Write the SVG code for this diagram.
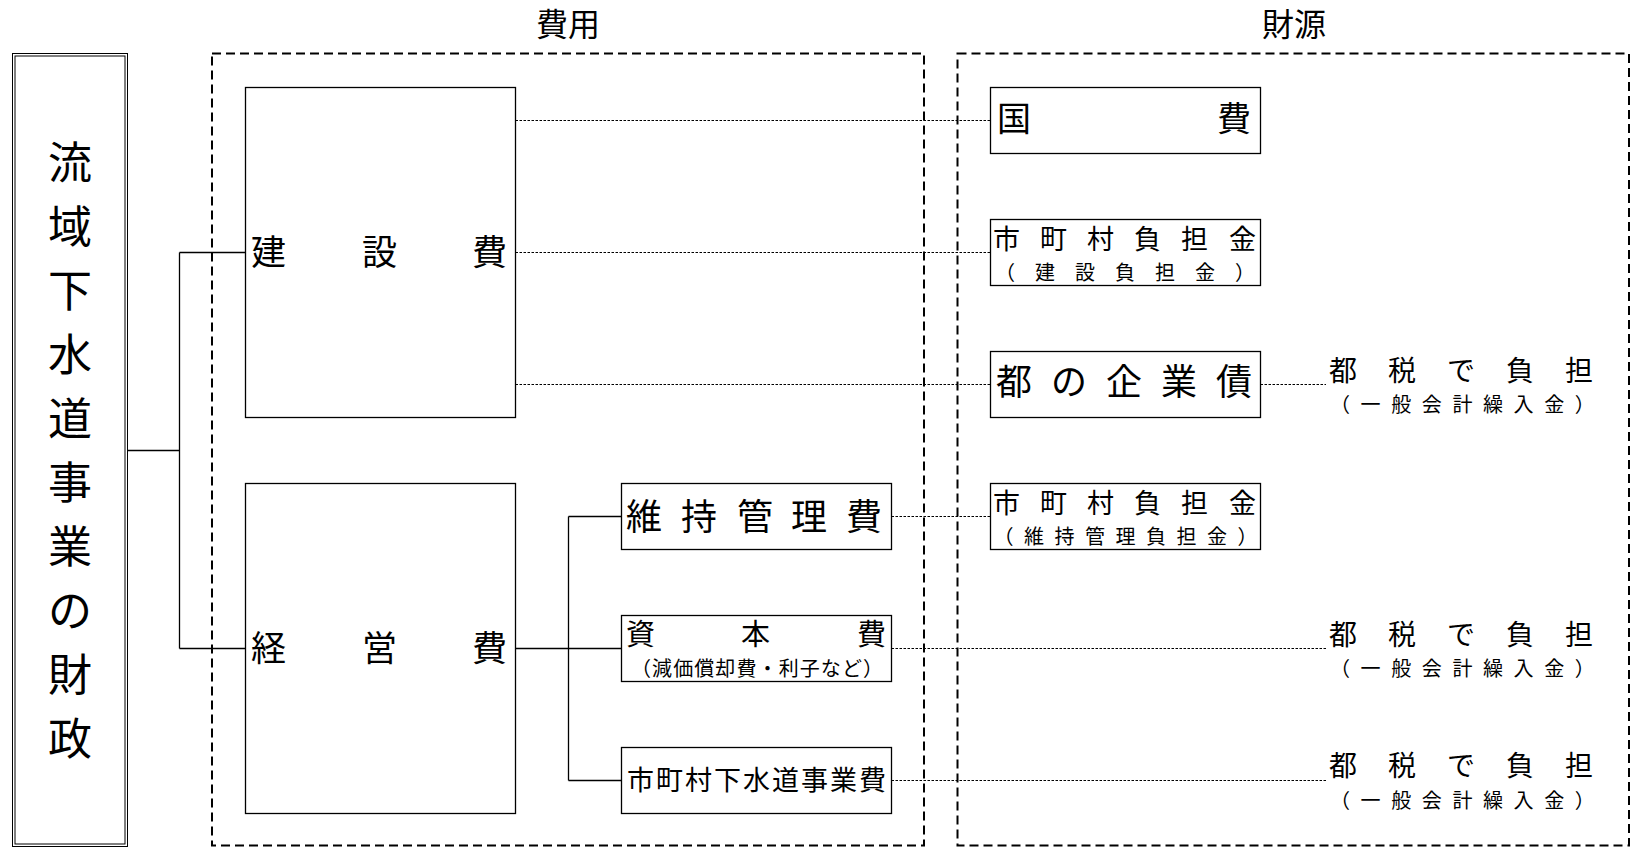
<svg xmlns="http://www.w3.org/2000/svg" width="1640" height="853" viewBox="0 0 1640 853">
<style>
text{font-family:"Noto Sans CJK JP","Noto Sans CJK SC",sans-serif;fill:#000}
.box{fill:#fff;stroke:#000;stroke-width:1.3}
.dash{fill:none;stroke:#000;stroke-width:2;stroke-dasharray:9 5}
.ln{fill:none;stroke:#000;stroke-width:1.3}
.dot{fill:none;stroke:#000;stroke-width:1;stroke-dasharray:2.5 1.5}
</style>
<rect width="1640" height="853" fill="#fff"/>
<g id="groups">
<rect class="dash" x="212" y="53.5" width="712" height="792"/>
<rect class="dash" x="957.5" y="53.5" width="671.5" height="792"/>
<text x="568" y="35.5" font-size="32" text-anchor="middle">費用</text>
<text x="1294" y="35.5" font-size="32" text-anchor="middle">財源</text>
</g>
<g id="connectors">
<path class="ln" d="M127.5,450.5H179.5M179.5,252.5V648.5M179.5,252.5H245.5M179.5,648.5H245.5"/>
<path class="ln" d="M515.5,648.5H621.5M568.5,516.5V780.5M568.5,516.5H621.5M568.5,780.5H621.5"/>
<path class="dot" d="M515.5,120.5H990.5M515.5,252.5H990.5M515.5,384.5H990.5M1260.5,384.5H1326M891.5,516.5H990.5M891.5,648.5H1326M891.5,780.5H1326"/>
</g>
<g id="title">
<rect x="12.5" y="53.5" width="115" height="793" fill="#fff" stroke="#000" stroke-width="1"/>
<rect x="15" y="56" width="110" height="788" fill="none" stroke="#000" stroke-width="1"/>
<text font-size="44" text-anchor="middle" x="70 70 70 70 70 70 70 70 70 70" y="178.7 242.7 306.7 370.7 434.7 498.7 562.7 626.7 690.7 754.7">流域下水道事業の財政</text>
</g>
<g id="kensetsu">
<rect class="box" x="245.5" y="87.5" width="270" height="330"/>
<text font-size="35" x="251 362 472" y="265">建設費</text>
</g>
<g id="keiei">
<rect class="box" x="245.5" y="483.5" width="270" height="330"/>
<text font-size="35" x="251 362 472" y="661">経営費</text>
</g>
<g id="iji">
<rect class="box" x="621.5" y="483.5" width="270" height="66"/>
<text font-size="36" x="626 681 737 791 846" y="530">維持管理費</text>
</g>
<g id="shihon">
<rect class="box" x="621.5" y="615.5" width="270" height="66"/>
<text font-size="29" x="626 741 857" y="645">資本費</text>
<text font-size="20" x="757" y="675.6" text-anchor="middle" textLength="252" lengthAdjust="spacing">（減価償却費・利子など）</text>
</g>
<g id="shichoson-gesui">
<rect class="box" x="621.5" y="747.5" width="270" height="66"/>
<text font-size="27" x="627" y="790" textLength="259" lengthAdjust="spacing">市町村下水道事業費</text>
</g>
<g id="kokuhi">
<rect class="box" x="990.5" y="87.5" width="270" height="66"/>
<text font-size="34" x="997 1217" y="131">国費</text>
</g>
<g id="futan-kensetsu">
<rect class="box" x="990.5" y="219.5" width="270" height="66"/>
<text font-size="27" x="993 1040 1087 1134 1181 1229" y="249">市町村負担金</text>
<text font-size="20" x="995 1035 1075 1115 1155 1195 1235" y="279.6">（建設負担金）</text>
</g>
<g id="kigyosai">
<rect class="box" x="990.5" y="351.5" width="270" height="66"/>
<text font-size="36" x="996 1051 1106 1161 1216" y="395">都の企業債</text>
</g>
<g id="futan-iji">
<rect class="box" x="990.5" y="483.5" width="270" height="66"/>
<text font-size="27" x="993 1040 1087 1134 1181 1229" y="513">市町村負担金</text>
<text font-size="20" x="993.5 1024 1054.5 1085 1115.5 1146 1176.5 1207 1237.5" y="543.6">（維持管理負担金）</text>
</g>
<g id="tozei-1">
<text font-size="28" x="1329 1388 1447 1506 1565" y="381">都税で負担</text>
<text font-size="20" x="1330 1360.6 1391.2 1421.8 1452.4 1483 1513.6 1544.2 1574.8" y="411.6">（一般会計繰入金）</text>
</g>
<g id="tozei-2">
<text font-size="28" x="1329 1388 1447 1506 1565" y="645">都税で負担</text>
<text font-size="20" x="1330 1360.6 1391.2 1421.8 1452.4 1483 1513.6 1544.2 1574.8" y="676">（一般会計繰入金）</text>
</g>
<g id="tozei-3">
<text font-size="28" x="1329 1388 1447 1506 1565" y="776">都税で負担</text>
<text font-size="20" x="1330 1360.6 1391.2 1421.8 1452.4 1483 1513.6 1544.2 1574.8" y="807.6">（一般会計繰入金）</text>
</g>
</svg>
